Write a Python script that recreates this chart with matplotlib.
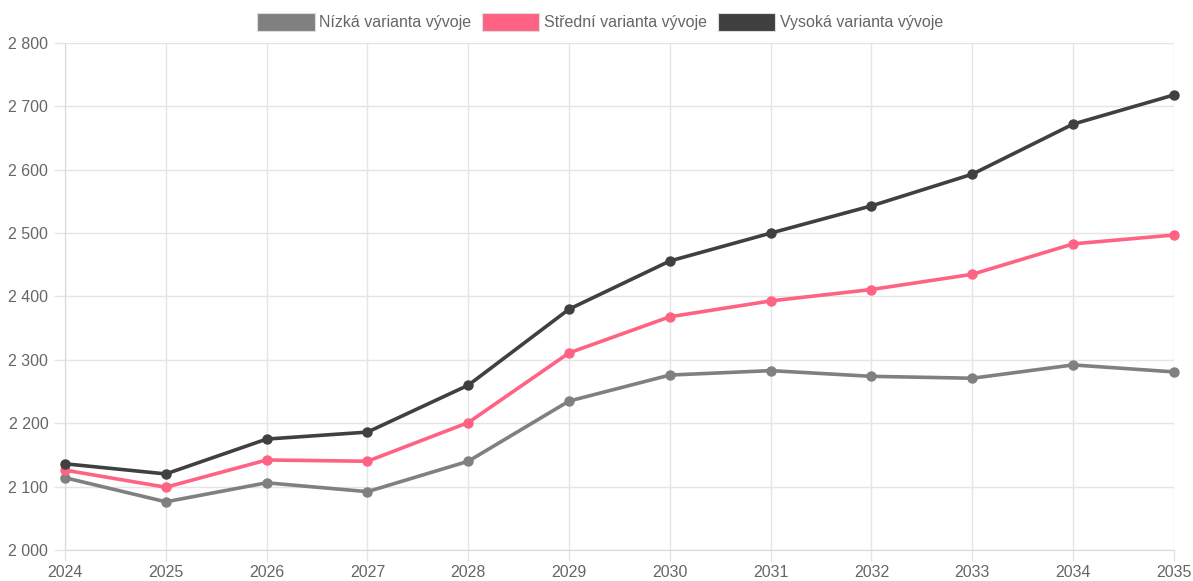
import matplotlib.pyplot as plt
from matplotlib.patches import Patch
from matplotlib.ticker import FuncFormatter

plt.rcParams['font.family'] = ['Liberation Sans', 'DejaVu Sans']

years = [2024, 2025, 2026, 2027, 2028, 2029, 2030, 2031, 2032, 2033, 2034, 2035]
nizka = [2114, 2076, 2106, 2092, 2140, 2235, 2276, 2283, 2274, 2271, 2292, 2281]
stredni = [2126, 2099, 2142, 2140, 2201, 2311, 2368, 2393, 2411, 2435, 2483, 2497]
vysoka = [2136, 2120, 2175, 2186, 2260, 2380, 2456, 2500, 2543, 2593, 2672, 2718]

labels = ['Nízká varianta vývoje', 'Střední varianta vývoje', 'Vysoká varianta vývoje']
colors = ['#808080', '#ff6384', '#404040']

fig = plt.figure(figsize=(11.93, 5.81), dpi=100)
ax = fig.add_axes([0.0545, 0.0534, 0.9295, 0.8726])

for vals, col in zip([nizka, stredni, vysoka], colors):
    ax.plot(years, vals, color=col, lw=2.6, marker='o', markersize=6.5, zorder=3, clip_on=False)

ax.set_xlim(2024, 2035)
ax.set_ylim(2000, 2800)
ax.set_xticks(years)
ax.set_yticks(range(2000, 2801, 100))
ax.yaxis.set_major_formatter(FuncFormatter(lambda v, p: f'{int(v):,}'.replace(',', ' ')))

ax.grid(True, color='#e5e5e5', lw=1)
ax.set_axisbelow(True)
for s in ['top', 'right']:
    ax.spines[s].set_visible(False)
for s in ['left', 'bottom']:
    ax.spines[s].set_color('#d9d9d9')
ax.tick_params(colors='#666666', labelsize=11.5, length=8, width=1)
ax.tick_params(axis='both', color='#e5e5e5')
ax.tick_params(axis='x', pad=3)
ax.tick_params(axis='y', pad=4)

handles = [Patch(facecolor=c, edgecolor='#dddddd', lw=0.8) for c in colors]
leg = fig.legend(handles, labels, loc='center', bbox_to_anchor=(0.503, 1 - 22 / 581), ncol=3,
                 frameon=False, fontsize=11.5, handlelength=3.6, handleheight=1.4,
                 handletextpad=0.3, columnspacing=0.65, borderpad=0)
for t in leg.get_texts():
    t.set_color('#666666')

fig.savefig('out.png', dpi=100)
